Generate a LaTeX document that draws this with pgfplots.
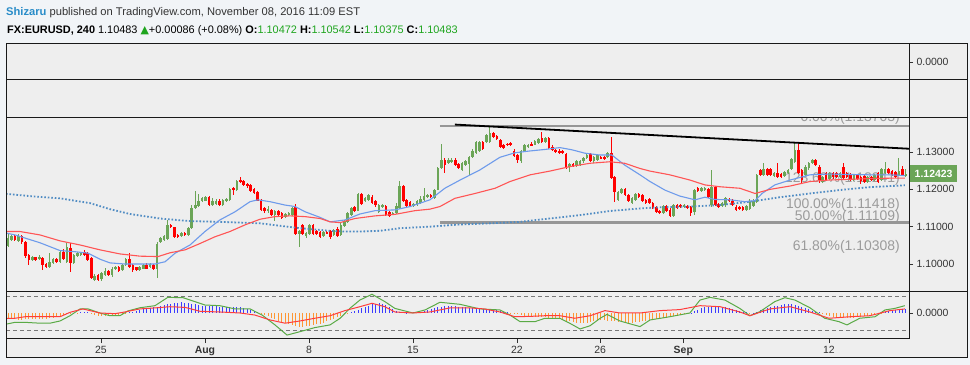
\documentclass[border=0pt]{standalone}
\usepackage{fontspec}
\setmainfont{Liberation Sans}
\newfontfamily\symfont{DejaVu Sans}
\usepackage{pgfplots}
\pgfplotsset{compat=1.18}
\usepackage{pgfplotstable}

\definecolor{outerbg}{RGB}{241,244,247}
\definecolor{panebg}{RGB}{238,238,238}
\definecolor{upc}{RGB}{107,165,87}
\definecolor{dnc}{RGB}{255,0,0}
\definecolor{maBlueC}{RGB}{110,155,235}
\definecolor{maRedC}{RGB}{255,85,85}
\definecolor{maDotC}{RGB}{80,140,195}
\definecolor{fibgray}{RGB}{150,150,150}
\definecolor{fibtext}{RGB}{155,155,155}
\definecolor{txt}{RGB}{51,51,51}
\definecolor{userblue}{RGB}{40,140,200}
\definecolor{valgreen}{RGB}{30,165,30}
\definecolor{oscgreen}{RGB}{90,170,70}
\definecolor{oscred}{RGB}{255,60,60}
\definecolor{histblue}{RGB}{60,60,255}
\definecolor{historange}{RGB}{255,150,50}

% 4h candles (open high low close), one row per bar
\pgfplotstableread[row sep=\\]{
o h l c\\
1.1048 1.1082 1.1045 1.1069\\ 1.1064 1.1078 1.1062 1.1075\\ 1.1075 1.1078 1.1062 1.1064\\ 1.1062 1.1080 1.1060 1.1075\\
1.1075 1.1078 1.1055 1.1060\\ 1.1060 1.1062 1.1015 1.1021\\ 1.1024 1.1027 1.0997 1.1011\\ 1.1011 1.1021 1.1008 1.1018\\
1.1018 1.1020 1.1008 1.1011\\ 1.1013 1.1024 1.1010 1.1018\\ 1.1016 1.1018 1.0984 1.0997\\ 1.1000 1.1003 1.0988 1.0991\\
1.0993 1.1029 1.0990 1.1006\\ 1.1002 1.1016 1.0999 1.1013\\ 1.1013 1.1016 1.1003 1.1006\\ 1.1006 1.1036 1.1004 1.1033\\
1.1033 1.1040 1.1010 1.1013\\ 1.1006 1.1056 1.1003 1.1045\\ 1.1042 1.1056 1.0979 1.1002\\ 1.1003 1.1027 1.1000 1.1024\\
1.1021 1.1032 1.1019 1.1029\\ 1.1024 1.1033 1.1022 1.1030\\ 1.1033 1.1038 1.1021 1.1024\\ 1.1029 1.1031 1.1008 1.1011\\
1.1015 1.1018 1.0960 1.0962\\ 1.0957 1.0972 1.0954 1.0968\\ 1.0970 1.0973 1.0954 1.0957\\ 1.0959 1.0978 1.0955 1.0975\\
1.0970 1.0989 1.0968 1.0982\\ 1.0982 1.0985 1.0967 1.0970\\ 1.0970 1.0992 1.0966 1.0988\\ 1.0986 1.0996 1.0983 1.0993\\
1.0993 1.0995 1.0980 1.0982\\ 1.0984 1.1000 1.0982 1.0997\\ 1.0997 1.1016 1.0995 1.1013\\ 1.1013 1.1029 1.0990 1.0993\\
1.0997 1.0999 1.0980 1.0984\\ 1.0991 1.0993 1.0982 1.0984\\ 1.0984 1.0994 1.0981 1.0991\\ 1.0988 1.1000 1.0986 1.0997\\
1.0997 1.1002 1.0986 1.0988\\ 1.0991 1.1003 1.0988 1.1000\\ 1.0997 1.1000 1.0983 1.0986\\ 1.0988 1.1058 1.0962 1.1055\\
1.1058 1.1072 1.1056 1.1069\\ 1.1064 1.1078 1.1062 1.1075\\ 1.1066 1.1118 1.1064 1.1105\\ 1.1105 1.1108 1.1096 1.1098\\
1.1098 1.1100 1.1070 1.1073\\ 1.1078 1.1080 1.1070 1.1073\\ 1.1075 1.1085 1.1073 1.1082\\ 1.1084 1.1086 1.1075 1.1078\\
1.1078 1.1099 1.1075 1.1096\\ 1.1096 1.1158 1.1094 1.1149\\ 1.1150 1.1195 1.1148 1.1157\\ 1.1155 1.1188 1.1152 1.1168\\
1.1168 1.1180 1.1165 1.1177\\ 1.1170 1.1182 1.1168 1.1179\\ 1.1179 1.1182 1.1155 1.1157\\ 1.1157 1.1176 1.1155 1.1168\\
1.1161 1.1173 1.1158 1.1170\\ 1.1170 1.1173 1.1155 1.1157\\ 1.1157 1.1175 1.1155 1.1172\\ 1.1168 1.1178 1.1165 1.1175\\
1.1172 1.1205 1.1170 1.1202\\ 1.1204 1.1207 1.1186 1.1199\\ 1.1199 1.1226 1.1197 1.1223\\ 1.1226 1.1232 1.1218 1.1220\\
1.1222 1.1225 1.1210 1.1213\\ 1.1214 1.1216 1.1205 1.1208\\ 1.1213 1.1215 1.1193 1.1196\\ 1.1202 1.1205 1.1187 1.1190\\
1.1193 1.1196 1.1168 1.1170\\ 1.1172 1.1175 1.1143 1.1146\\ 1.1150 1.1153 1.1138 1.1141\\ 1.1141 1.1155 1.1138 1.1148\\
1.1146 1.1148 1.1129 1.1132\\ 1.1132 1.1144 1.1114 1.1141\\ 1.1143 1.1146 1.1128 1.1130\\ 1.1137 1.1139 1.1120 1.1123\\
1.1125 1.1137 1.1122 1.1134\\ 1.1131 1.1140 1.1129 1.1137\\ 1.1132 1.1153 1.1130 1.1150\\ 1.1152 1.1161 1.1078 1.1080\\
1.1080 1.1091 1.1045 1.1088\\ 1.1104 1.1107 1.1077 1.1080\\ 1.1074 1.1086 1.1071 1.1083\\ 1.1080 1.1107 1.1077 1.1104\\
1.1104 1.1107 1.1077 1.1080\\ 1.1088 1.1091 1.1077 1.1080\\ 1.1086 1.1088 1.1069 1.1072\\ 1.1074 1.1088 1.1072 1.1086\\
1.1086 1.1088 1.1080 1.1083\\ 1.1088 1.1091 1.1067 1.1072\\ 1.1077 1.1095 1.1075 1.1092\\ 1.1095 1.1098 1.1072 1.1074\\
1.1077 1.1110 1.1075 1.1104\\ 1.1101 1.1117 1.1099 1.1114\\ 1.1113 1.1140 1.1110 1.1137\\ 1.1132 1.1153 1.1130 1.1150\\
1.1152 1.1155 1.1139 1.1141\\ 1.1143 1.1191 1.1141 1.1188\\ 1.1188 1.1190 1.1158 1.1161\\ 1.1168 1.1180 1.1165 1.1177\\
1.1172 1.1189 1.1170 1.1186\\ 1.1181 1.1184 1.1160 1.1163\\ 1.1170 1.1172 1.1154 1.1157\\ 1.1139 1.1160 1.1136 1.1157\\
1.1152 1.1160 1.1149 1.1157\\ 1.1155 1.1157 1.1129 1.1132\\ 1.1139 1.1142 1.1127 1.1130\\ 1.1132 1.1140 1.1130 1.1137\\
1.1137 1.1163 1.1134 1.1155\\ 1.1150 1.1222 1.1147 1.1208\\ 1.1208 1.1211 1.1167 1.1170\\ 1.1172 1.1175 1.1152 1.1155\\
1.1166 1.1169 1.1152 1.1155\\ 1.1155 1.1164 1.1152 1.1161\\ 1.1157 1.1171 1.1155 1.1168\\ 1.1163 1.1181 1.1160 1.1175\\
1.1172 1.1204 1.1170 1.1181\\ 1.1179 1.1187 1.1177 1.1184\\ 1.1184 1.1187 1.1177 1.1179\\ 1.1177 1.1202 1.1175 1.1199\\
1.1199 1.1260 1.1197 1.1257\\ 1.1257 1.1322 1.1255 1.1280\\ 1.1280 1.1283 1.1244 1.1266\\ 1.1271 1.1283 1.1268 1.1280\\
1.1273 1.1283 1.1271 1.1280\\ 1.1280 1.1283 1.1262 1.1265\\ 1.1268 1.1271 1.1254 1.1257\\ 1.1253 1.1274 1.1250 1.1271\\
1.1266 1.1278 1.1263 1.1275\\ 1.1268 1.1289 1.1239 1.1286\\ 1.1286 1.1307 1.1284 1.1304\\ 1.1297 1.1330 1.1294 1.1327\\
1.1302 1.1330 1.1299 1.1327\\ 1.1327 1.1330 1.1306 1.1309\\ 1.1327 1.1348 1.1324 1.1345\\ 1.1327 1.1366 1.1324 1.1351\\
1.1351 1.1354 1.1337 1.1340\\ 1.1342 1.1345 1.1333 1.1336\\ 1.1333 1.1336 1.1312 1.1315\\ 1.1320 1.1322 1.1308 1.1311\\
1.1322 1.1325 1.1317 1.1320\\ 1.1324 1.1327 1.1317 1.1320\\ 1.1304 1.1307 1.1286 1.1289\\ 1.1291 1.1294 1.1271 1.1280\\
1.1275 1.1305 1.1272 1.1302\\ 1.1302 1.1321 1.1299 1.1318\\ 1.1313 1.1323 1.1310 1.1320\\ 1.1322 1.1328 1.1316 1.1318\\
1.1320 1.1332 1.1318 1.1329\\ 1.1324 1.1339 1.1322 1.1336\\ 1.1338 1.1354 1.1324 1.1327\\ 1.1327 1.1341 1.1324 1.1338\\
1.1338 1.1341 1.1308 1.1311\\ 1.1315 1.1318 1.1303 1.1306\\ 1.1306 1.1309 1.1297 1.1300\\ 1.1304 1.1307 1.1294 1.1297\\
1.1302 1.1305 1.1294 1.1297\\ 1.1295 1.1298 1.1256 1.1259\\ 1.1259 1.1271 1.1247 1.1268\\ 1.1268 1.1271 1.1259 1.1262\\
1.1262 1.1278 1.1259 1.1275\\ 1.1266 1.1278 1.1263 1.1275\\ 1.1275 1.1287 1.1272 1.1284\\ 1.1284 1.1294 1.1281 1.1291\\
1.1295 1.1298 1.1274 1.1277\\ 1.1275 1.1289 1.1272 1.1286\\ 1.1280 1.1294 1.1277 1.1291\\ 1.1286 1.1289 1.1281 1.1284\\
1.1286 1.1289 1.1279 1.1282\\ 1.1286 1.1300 1.1283 1.1297\\ 1.1297 1.1340 1.1227 1.1230\\ 1.1232 1.1235 1.1165 1.1193\\
1.1172 1.1196 1.1169 1.1193\\ 1.1190 1.1205 1.1187 1.1202\\ 1.1202 1.1205 1.1181 1.1184\\ 1.1186 1.1189 1.1165 1.1168\\
1.1163 1.1180 1.1160 1.1177\\ 1.1172 1.1191 1.1169 1.1188\\ 1.1188 1.1191 1.1178 1.1181\\ 1.1184 1.1187 1.1167 1.1170\\
1.1172 1.1175 1.1160 1.1163\\ 1.1175 1.1178 1.1160 1.1163\\ 1.1163 1.1166 1.1147 1.1150\\ 1.1152 1.1155 1.1136 1.1139\\
1.1143 1.1146 1.1134 1.1137\\ 1.1137 1.1158 1.1134 1.1155\\ 1.1155 1.1158 1.1140 1.1143\\ 1.1146 1.1149 1.1125 1.1128\\
1.1130 1.1160 1.1127 1.1157\\ 1.1157 1.1160 1.1147 1.1150\\ 1.1157 1.1160 1.1149 1.1152\\ 1.1152 1.1162 1.1149 1.1159\\
1.1155 1.1158 1.1147 1.1150\\ 1.1152 1.1155 1.1128 1.1137\\ 1.1139 1.1202 1.1132 1.1199\\ 1.1204 1.1207 1.1192 1.1195\\
1.1195 1.1207 1.1192 1.1204\\ 1.1199 1.1207 1.1196 1.1204\\ 1.1202 1.1205 1.1178 1.1181\\ 1.1157 1.1253 1.1154 1.1206\\
1.1206 1.1209 1.1156 1.1159\\ 1.1161 1.1164 1.1149 1.1152\\ 1.1155 1.1166 1.1152 1.1163\\ 1.1157 1.1180 1.1154 1.1177\\
1.1175 1.1178 1.1165 1.1168\\ 1.1170 1.1173 1.1155 1.1158\\ 1.1154 1.1157 1.1142 1.1145\\ 1.1152 1.1155 1.1144 1.1147\\
1.1152 1.1155 1.1142 1.1145\\ 1.1145 1.1158 1.1142 1.1155\\ 1.1147 1.1173 1.1144 1.1170\\ 1.1155 1.1173 1.1152 1.1170\\
1.1167 1.1242 1.1164 1.1239\\ 1.1252 1.1255 1.1236 1.1239\\ 1.1239 1.1270 1.1236 1.1254\\ 1.1254 1.1257 1.1236 1.1239\\
1.1254 1.1257 1.1236 1.1239\\ 1.1236 1.1248 1.1233 1.1245\\ 1.1245 1.1270 1.1231 1.1234\\ 1.1241 1.1244 1.1231 1.1234\\
1.1236 1.1250 1.1233 1.1247\\ 1.1245 1.1255 1.1242 1.1252\\ 1.1254 1.1284 1.1251 1.1281\\ 1.1274 1.1323 1.1271 1.1306\\
1.1306 1.1323 1.1240 1.1243\\ 1.1252 1.1255 1.1216 1.1225\\ 1.1239 1.1264 1.1236 1.1261\\ 1.1256 1.1273 1.1253 1.1270\\
1.1270 1.1282 1.1267 1.1279\\ 1.1279 1.1282 1.1262 1.1265\\ 1.1261 1.1264 1.1216 1.1225\\ 1.1221 1.1237 1.1218 1.1234\\
1.1245 1.1248 1.1222 1.1225\\ 1.1227 1.1246 1.1224 1.1243\\ 1.1245 1.1248 1.1229 1.1232\\ 1.1243 1.1246 1.1231 1.1234\\
1.1234 1.1246 1.1231 1.1243\\ 1.1261 1.1270 1.1227 1.1230\\ 1.1243 1.1246 1.1231 1.1234\\ 1.1241 1.1244 1.1222 1.1225\\
1.1225 1.1242 1.1222 1.1239\\ 1.1239 1.1242 1.1224 1.1227\\ 1.1234 1.1237 1.1215 1.1223\\ 1.1236 1.1239 1.1218 1.1221\\
1.1221 1.1237 1.1218 1.1234\\ 1.1234 1.1237 1.1222 1.1225\\ 1.1225 1.1242 1.1222 1.1239\\ 1.1243 1.1246 1.1218 1.1221\\
1.1225 1.1257 1.1222 1.1254\\ 1.1245 1.1274 1.1242 1.1254\\ 1.1254 1.1257 1.1240 1.1243\\ 1.1250 1.1253 1.1236 1.1239\\
1.1247 1.1250 1.1231 1.1234\\ 1.1239 1.1283 1.1236 1.1250\\ 1.1254 1.1262 1.1236 1.1239\\ 1.1237 1.1255 1.1234 1.1242\\
}\candles

\pgfplotstableread[row sep=\\]{
x y\\ -0.6 1.1083\\ 2.0 1.1078\\ 9.2 1.1057\\ 15.0 1.1036\\ 19.3 1.1033\\ 23.1 1.1029\\ 26.5 1.1013\\ 29.4 1.1003\\
33.7 1.1000\\ 42.4 1.1000\\ 45.3 1.1006\\ 48.2 1.1029\\ 52.5 1.1051\\ 56.8 1.1087\\ 61.1 1.1118\\ 65.5 1.1140\\
69.8 1.1167\\ 72.1 1.1172\\ 75.6 1.1167\\ 79.9 1.1158\\ 82.8 1.1154\\ 85.7 1.1140\\ 90.0 1.1125\\ 92.9 1.1113\\
97.2 1.1118\\ 101.5 1.1134\\ 105.9 1.1143\\ 111.6 1.1145\\ 116.0 1.1154\\ 121.7 1.1172\\ 126.0 1.1203\\ 130.4 1.1225\\
136.1 1.1252\\ 141.9 1.1286\\ 146.2 1.1298\\ 150.6 1.1303\\ 154.9 1.1307\\ 159.2 1.1312\\ 162.7 1.1306\\ 166.4 1.1297\\
170.8 1.1292\\ 174.2 1.1292\\ 177.9 1.1265\\ 182.3 1.1239\\ 185.2 1.1221\\ 189.5 1.1198\\ 193.8 1.1182\\ 198.2 1.1172\\
201.0 1.1179\\ 203.9 1.1173\\ 208.3 1.1172\\ 212.6 1.1167\\ 215.5 1.1170\\ 217.5 1.1189\\ 221.2 1.1212\\ 225.6 1.1225\\
231.3 1.1239\\ 236.8 1.1241\\ 242.9 1.1240\\ 248.6 1.1239\\ 254.4 1.1239\\ 258.7 1.1237\\
}\maBlue

\pgfplotstableread[row sep=\\]{
x y\\ -0.6 1.1087\\ 3.5 1.1087\\ 9.2 1.1078\\ 15.0 1.1062\\ 20.8 1.1051\\ 26.5 1.1038\\ 32.3 1.1027\\ 38.1 1.1021\\
43.3 1.1020\\ 46.7 1.1030\\ 51.1 1.1038\\ 55.4 1.1055\\ 59.7 1.1073\\ 64.0 1.1087\\ 68.4 1.1105\\ 72.7 1.1120\\
77.0 1.1127\\ 81.3 1.1129\\ 85.7 1.1127\\ 90.0 1.1122\\ 92.9 1.1113\\ 95.8 1.1111\\ 100.1 1.1122\\ 105.9 1.1129\\
111.6 1.1133\\ 117.4 1.1143\\ 121.7 1.1147\\ 124.6 1.1154\\ 128.9 1.1176\\ 134.7 1.1189\\ 140.5 1.1203\\ 144.8 1.1221\\
150.6 1.1239\\ 156.3 1.1249\\ 162.1 1.1261\\ 167.9 1.1270\\ 173.6 1.1274\\ 177.9 1.1270\\ 182.3 1.1256\\ 185.2 1.1249\\
190.9 1.1239\\ 196.7 1.1225\\ 201.0 1.1212\\ 205.4 1.1207\\ 211.1 1.1203\\ 215.5 1.1189\\ 219.8 1.1200\\ 225.6 1.1209\\
231.3 1.1221\\ 236.8 1.1225\\ 242.9 1.1227\\ 248.6 1.1229\\ 254.4 1.1230\\ 258.7 1.1230\\
}\maRed

\pgfplotstableread[row sep=\\]{
x y\\ -0.6 1.1188\\ 6.3 1.1182\\ 15.0 1.1176\\ 23.7 1.1163\\ 29.4 1.1147\\ 35.2 1.1134\\ 43.8 1.1122\\ 52.5 1.1115\\
61.1 1.1113\\ 72.7 1.1109\\ 84.2 1.1096\\ 92.9 1.1089\\ 97.2 1.1087\\ 101.5 1.1087\\ 107.3 1.1089\\ 113.1 1.1096\\
121.7 1.1100\\ 130.4 1.1106\\ 139.0 1.1109\\ 147.7 1.1113\\ 156.3 1.1122\\ 165.0 1.1131\\ 173.6 1.1142\\ 182.3 1.1149\\
188.1 1.1152\\ 196.7 1.1154\\ 205.4 1.1158\\ 214.0 1.1167\\ 222.7 1.1179\\ 231.3 1.1189\\ 239.7 1.1198\\ 248.6 1.1206\\
258.7 1.1211\\
}\maDot

% oscillator histogram, one value per bar
\pgfplotstableread[row sep=\\]{
v\\ -0.30\\ -0.35\\ -0.38\\ -0.40\\ -0.40\\ -0.38\\ -0.35\\ -0.35\\ -0.36\\ -0.35\\ -0.33\\ -0.35\\ -0.32\\
-0.28\\ -0.22\\ -0.16\\ -0.10\\ -0.05\\ -0.03\\ 0.00\\ -0.02\\ 0.04\\ 0.05\\ 0.03\\
-0.08\\ -0.12\\ -0.15\\ -0.16\\ -0.17\\ -0.16\\ -0.15\\ -0.14\\ -0.12\\ -0.08\\ -0.04\\
0.04\\ 0.08\\ 0.12\\ 0.18\\ 0.22\\ 0.26\\ 0.30\\ 0.34\\ 0.38\\ 0.42\\ 0.46\\
0.50\\ 0.55\\ 0.58\\ 0.60\\ 0.62\\ 0.60\\ 0.58\\ 0.55\\ 0.50\\
0.46\\ 0.44\\ 0.42\\ 0.42\\ 0.40\\ 0.40\\ 0.38\\ 0.38\\ 0.36\\ 0.36\\ 0.35\\ 0.34\\ 0.33\\ 0.30\\ 0.26\\ 0.20\\ 0.14\\
0.06\\ -0.02\\
-0.10\\ -0.20\\ -0.30\\ -0.38\\ -0.46\\ -0.54\\ -0.60\\ -0.66\\ -0.72\\ -0.76\\ -0.80\\ -0.80\\ -0.78\\ -0.74\\ -0.70\\ -0.66\\ -0.62\\ -0.56\\ -0.50\\ -0.42\\ -0.34\\ -0.25\\ -0.16\\ -0.08\\
-0.02\\ 0.04\\
0.12\\ 0.20\\ 0.28\\ 0.36\\ 0.44\\ 0.50\\ 0.55\\ 0.56\\ 0.54\\ 0.48\\ 0.38\\ 0.26\\ 0.14\\
0.06\\ 0.03\\ 0.02\\ 0.03\\ 0.04\\ 0.05\\ 0.08\\
0.14\\ 0.20\\ 0.25\\ 0.30\\ 0.34\\ 0.37\\ 0.39\\ 0.40\\ 0.40\\ 0.39\\ 0.38\\ 0.36\\ 0.34\\ 0.32\\ 0.30\\ 0.28\\ 0.26\\
0.24\\ 0.22\\ 0.20\\ 0.18\\ 0.15\\ 0.12\\ 0.08\\ 0.04\\
-0.02\\ -0.05\\ -0.08\\ -0.12\\
-0.15\\ -0.18\\ -0.20\\ -0.22\\ -0.24\\ -0.25\\ -0.26\\ -0.28\\ -0.30\\ -0.34\\ -0.38\\
-0.42\\ -0.46\\ -0.50\\ -0.55\\ -0.58\\ -0.60\\ -0.60\\ -0.58\\ -0.55\\ -0.50\\ -0.46\\ -0.44\\
-0.44\\ -0.45\\ -0.47\\ -0.49\\ -0.51\\ -0.53\\ -0.55\\ -0.56\\ -0.56\\ -0.55\\ -0.53\\
-0.50\\ -0.47\\ -0.44\\ -0.41\\ -0.38\\ -0.35\\ -0.32\\ -0.28\\ -0.24\\ -0.20\\ -0.16\\ -0.12\\ -0.08\\ -0.04\\ 0.02\\
0.10\\ 0.20\\ 0.28\\ 0.34\\ 0.38\\ 0.40\\ 0.40\\ 0.39\\ 0.37\\ 0.34\\ 0.30\\ 0.25\\ 0.20\\ 0.14\\
0.08\\ 0.03\\ -0.02\\ 0.02\\ 0.08\\
0.15\\ 0.22\\ 0.28\\ 0.34\\ 0.40\\ 0.44\\ 0.48\\ 0.50\\ 0.52\\ 0.50\\ 0.48\\ 0.44\\ 0.38\\ 0.30\\ 0.22\\ 0.14\\ 0.08\\ 0.03\\ -0.04\\
-0.10\\ -0.16\\ -0.22\\ -0.26\\ -0.30\\ -0.32\\ -0.32\\ -0.30\\ -0.28\\ -0.25\\ -0.22\\ -0.20\\ -0.17\\ -0.14\\ -0.10\\ -0.06\\ -0.02\\
0.04\\ 0.10\\ 0.16\\ 0.20\\ 0.24\\ 0.26\\ 0.25\\
}\hist

\pgfplotstableread[row sep=\\]{
x y\\ -0.6 -0.66\\ 2.0 -0.55\\ 4.9 -0.55\\ 9.2 -0.60\\ 12.1 -0.60\\ 15.0 -0.47\\ 17.9 -0.16\\ 20.8 0.24\\ 23.1 0.24\\
26.5 0.00\\ 29.4 -0.16\\ 32.3 -0.16\\ 34.6 0.12\\ 38.1 0.31\\ 42.4 0.43\\ 46.1 0.92\\ 50.5 0.90\\ 53.9 0.67\\ 56.8 0.47\\
61.1 0.43\\ 65.5 0.24\\ 69.8 0.24\\ 73.3 -0.12\\ 77.0 -0.70\\ 80.5 -1.30\\ 84.2 -1.10\\ 88.5 -0.86\\ 92.9 -0.70\\ 95.8 -0.31\\
98.6 0.27\\ 101.5 0.76\\ 105.0 1.10\\ 108.7 0.67\\ 111.6 0.27\\ 116.8 0.00\\ 120.3 0.18\\ 124.6 0.63\\ 130.4 0.51\\ 136.1 0.24\\
141.9 0.18\\ 144.8 -0.12\\ 147.7 -0.51\\ 152.0 -0.51\\ 154.9 -0.31\\ 159.2 -0.31\\ 162.1 -0.61\\ 165.0 -0.94\\ 167.9 -0.75\\
170.8 -0.31\\ 172.8 -0.08\\ 176.5 -0.47\\ 182.3 -0.80\\ 185.2 -0.41\\ 190.9 -0.22\\ 196.7 0.00\\ 199.6 0.76\\ 202.5 0.92\\
206.8 0.76\\ 211.1 0.27\\ 214.0 -0.16\\ 216.9 0.08\\ 221.2 0.67\\ 224.1 0.90\\ 227.0 0.76\\ 231.3 0.31\\ 235.6 -0.31\\
239.7 -0.51\\ 242.0 -0.70\\ 245.7 -0.31\\ 250.1 -0.22\\ 253.0 0.18\\ 255.8 0.27\\ 258.7 0.43\\
}\oscG

\pgfplotstableread[row sep=\\]{
x y\\ -0.6 -0.31\\ 2.0 -0.31\\ 4.9 -0.22\\ 15.0 -0.22\\ 17.9 0.04\\ 21.6 0.24\\ 26.5 0.00\\ 30.9 -0.04\\ 33.7 0.06\\
38.1 0.24\\ 42.4 0.30\\ 46.7 0.37\\ 51.1 0.33\\ 55.4 0.10\\ 61.1 0.06\\ 66.9 0.00\\ 71.2 -0.12\\ 75.6 -0.41\\ 79.9 -0.60\\
84.2 -0.47\\ 88.5 -0.31\\ 92.9 -0.16\\ 97.2 0.14\\ 101.5 0.37\\ 105.0 0.57\\ 108.7 0.37\\ 111.6 0.06\\ 116.8 0.00\\
121.7 0.06\\ 127.5 0.30\\ 133.3 0.30\\ 137.3 0.24\\ 141.9 0.06\\ 146.2 -0.22\\ 150.6 -0.20\\ 154.9 -0.16\\ 159.2 -0.16\\
163.5 -0.31\\ 167.9 -0.16\\ 172.2 0.14\\ 176.5 0.00\\ 182.3 0.00\\ 188.1 0.14\\ 193.8 0.20\\ 199.6 0.43\\ 205.4 0.37\\
211.1 0.06\\ 214.0 -0.16\\ 219.8 0.24\\ 225.6 0.37\\ 231.3 0.06\\ 236.8 -0.31\\ 242.9 -0.22\\ 248.6 -0.16\\ 254.4 0.14\\
258.7 0.24\\
}\oscR

\pgfplotsset{
  candle/.style n args={4}{draw=none, mark=none, forget plot,
    restrict expr to domain={#1}{#2},
    error bars/.cd, y dir=both, y explicit, error mark=none,
    error bar style={draw=#3, line width=#4, solid}},
}

\begin{document}
\begin{tikzpicture}
\useasboundingbox (0,0) rectangle (970bp,365bp);
\fill[outerbg] (0,0) rectangle (970bp,365bp);
\fill[panebg] (6bp,7bp) rectangle (967bp,321bp);

% ---------- header ----------
\node[anchor=base west, inner sep=0, font=\fontsize{11.2}{13}\selectfont, text=txt] at (6bp,349bp)
 {\textcolor{userblue}{\bfseries Shizaru} published on TradingView.com, November 08, 2016 11:09 EST};
\node[anchor=base west, inner sep=0, font=\fontsize{10.95}{13}\selectfont, text=black] at (7bp,331.5bp)
 {{\bfseries FX:EURUSD, 240} 1.10483 {\color{valgreen}\symfont ▲}+0.00086 (+0.08\%) {\bfseries O:}{\color{valgreen}1.10472} {\bfseries H:}{\color{valgreen}1.10542} {\bfseries L:}{\color{valgreen}1.10375} {\bfseries C:}{\color{valgreen}1.10483}};

% ---------- main price pane ----------
\begin{axis}[
  at={(6bp,73bp)}, anchor=south west, scale only axis,
  width=903bp, height=174bp,
  xmin=-0.58, xmax=259.9, ymin=1.0925, ymax=1.13913,
  axis line style={draw=none}, xtick=\empty,
  ytick={1.10,1.11,1.12,1.13}, yticklabels={1.10000,1.11000,1.12000,1.13000},
  ytick pos=right, yticklabel pos=right, tick align=outside,
  major tick length=4bp, ytick style={draw=txt, line width=0.6bp},
  yticklabel style={font=\fontsize{10.5}{12}\selectfont, text=txt},
]
\node[anchor=base east, inner sep=0, font=\fontsize{14}{16}\selectfont, text=fibtext] at (axis cs:257.3,1.13819) {0.00\%(1.13703)};
\node[anchor=base east, inner sep=0, font=\fontsize{14}{16}\selectfont, text=fibtext] at (axis cs:257.3,1.12171) {123.60\%(1.12241)};
\node[anchor=base east, inner sep=0, font=\fontsize{14}{16}\selectfont, text=fibtext] at (axis cs:257.3,1.11501) {100.00\%(1.11418)};
\node[anchor=base east, inner sep=0, font=\fontsize{14}{16}\selectfont, text=fibtext] at (axis cs:257.3,1.11166) {50.00\%(1.11109)};
\node[anchor=base east, inner sep=0, font=\fontsize{14}{16}\selectfont, text=fibtext] at (axis cs:257.3,1.10362) {61.80\%(1.10308)};

\addplot[fibgray, line width=2.5bp, forget plot] coordinates {(124.6,1.13703) (259.9,1.13703)};
\addplot[fibgray, line width=2.5bp, forget plot] coordinates {(124.6,1.11109) (259.9,1.11109)};

% wicks
\addplot[candle={\thisrow{c}-\thisrow{o}}{0:1}{upc}{1bp}]
  table[x expr=\coordindex, y expr={(\thisrow{h}+\thisrow{l})/2}, y error expr={(\thisrow{h}-\thisrow{l})/2}] {\candles};
\addplot[candle={\thisrow{o}-\thisrow{c}}{0.00001:1}{dnc}{1bp}]
  table[x expr=\coordindex, y expr={(\thisrow{h}+\thisrow{l})/2}, y error expr={(\thisrow{h}-\thisrow{l})/2}] {\candles};
% bodies
\addplot[candle={\thisrow{c}-\thisrow{o}}{0:1}{upc}{2.6bp}]
  table[x expr=\coordindex, y expr={(\thisrow{o}+\thisrow{c})/2}, y error expr={max(abs(\thisrow{c}-\thisrow{o})/2,0.00005)}] {\candles};
\addplot[candle={\thisrow{o}-\thisrow{c}}{0.00001:1}{dnc}{2.6bp}]
  table[x expr=\coordindex, y expr={(\thisrow{o}+\thisrow{c})/2}, y error expr={max(abs(\thisrow{c}-\thisrow{o})/2,0.00005)}] {\candles};

% moving averages
\addplot[maDotC, line width=1.8bp, dash pattern=on 1.6bp off 1.9bp] table {\maDot};
\addplot[maBlueC, line width=1.1bp] table {\maBlue};
\addplot[maRedC, line width=1.1bp] table {\maRed};
% trend line
\addplot[black, line width=1.8bp] coordinates {(128.9,1.13737) (259.9,1.13089)};
\end{axis}

% cover the two upper panes
\fill[panebg] (6bp,247bp) rectangle (909bp,321bp);

% ---------- top (empty) pane ----------
\begin{axis}[
  at={(6bp,285bp)}, anchor=south west, scale only axis,
  width=903bp, height=36bp,
  xmin=0, xmax=1, ymin=-1, ymax=1,
  axis line style={draw=none}, xtick=\empty,
  ytick={0}, yticklabels={0.0000},
  ytick pos=right, yticklabel pos=right, tick align=outside,
  major tick length=4bp, ytick style={draw=txt, line width=0.6bp},
  yticklabel style={font=\fontsize{10.5}{12}\selectfont, text=txt},
]
\end{axis}

% ---------- oscillator pane ----------
\begin{axis}[
  at={(6bp,26bp)}, anchor=south west, scale only axis,
  width=903bp, height=47bp,
  xmin=-0.58, xmax=259.9, ymin=-1.53, ymax=1.235,
  axis line style={draw=none},
  ytick={0}, yticklabels={0.0000},
  ytick pos=right, yticklabel pos=right,
  xtick={26.8,56.8,86.8,116.8,146.8,170.8,194.8,236.8},
  xticklabels={25,\textbf{Aug},8,15,22,26,\textbf{Sep},12},
  xtick pos=bottom, tick align=outside,
  major tick length=4bp, tick style={draw=txt, line width=0.6bp},
  ticklabel style={font=\fontsize{10.5}{12}\selectfont, text=txt},
]
\addplot[draw={rgb,255:red,120;green,120;blue,120}, line width=0.8bp, dash pattern=on 4bp off 3bp, forget plot] coordinates {(-0.58,1) (259.9,1)};
\addplot[draw={rgb,255:red,120;green,120;blue,120}, line width=0.8bp, dash pattern=on 4bp off 3bp, forget plot] coordinates {(-0.58,-1) (259.9,-1)};
\addplot[ycomb, histblue, line width=0.9bp, mark=none, restrict y to domain=0:5] table[x expr=\coordindex, y=v] {\hist};
\addplot[ycomb, historange, line width=0.9bp, mark=none, restrict y to domain=-5:0] table[x expr=\coordindex, y=v] {\hist};
\addplot[oscgreen, line width=1bp] table {\oscG};
\addplot[oscred, line width=1bp] table {\oscR};
\end{axis}

% ---------- frame ----------
\draw[line width=1bp, black!90] (6bp,7bp) rectangle (967bp,321bp);
\draw[line width=1bp, black!90] (6bp,285bp) -- (967bp,285bp);
\draw[line width=1bp, black!90] (6bp,247bp) -- (967bp,247bp);
\draw[line width=1bp, black!90] (6bp,73bp) -- (967bp,73bp);
\draw[line width=1bp, black!90] (6bp,26bp) -- (909bp,26bp);
\draw[line width=1bp, black!90] (909bp,26bp) -- (909bp,321bp);

% current price label
\node[anchor=west, fill=upc, text=white, inner xsep=4.5bp, inner ysep=0pt, minimum height=17bp,
      font=\bfseries\fontsize{10.5}{12}\selectfont] at (910bp,191bp) {1.12423};
\end{tikzpicture}
\end{document}
